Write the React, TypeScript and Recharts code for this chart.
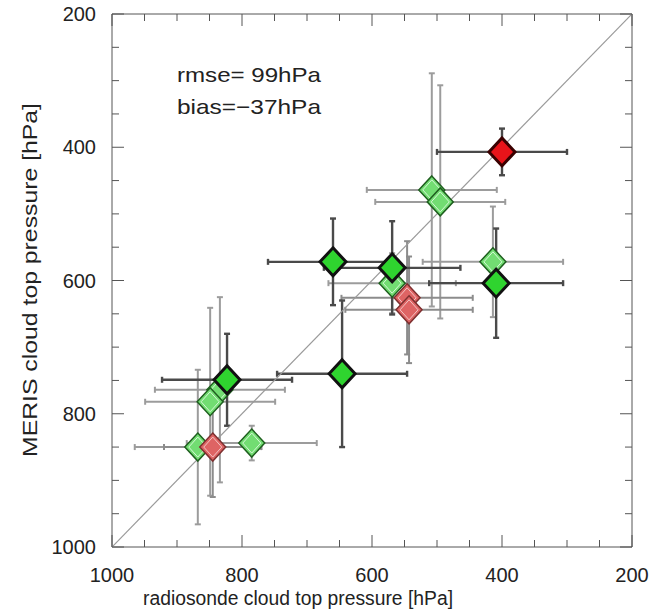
import React from 'react'
import {
  ComposedChart, Scatter, XAxis, YAxis, ErrorBar, Customized,
} from 'recharts'

// pressures in hPa
const lightGreenX = [508, 495, 569, 414, 834, 849, 868, 785]
const lightGreenY = [464, 482, 604, 572, 764, 782, 850, 844]
const lightGreenEx = [100, 100, 98, 108, 100, 100, 97, 100]
const lightGreenEy = [175, 175, 45, 83, 139, 141, 116, 26]

const darkGreenX = [660, 569, 409, 646, 823]
const darkGreenY = [572, 581, 604, 740, 749]
const darkGreenEx = [100, 105, 103, 100, 100]
const darkGreenEy = [65, 70, 82, 110, 69]

const redLightX = [546, 543, 845]
const redLightY = [626, 644, 850]
const redLightEx = [101, 98, 75]
const redLightEy = [85, 80, 75]

const redDarkX = [400]
const redDarkY = [407]
const redDarkEx = [100]
const redDarkEy = [35]

// 1:1 line
const diagX = [1000, 200]
const diagY = [1000, 200]

const majorTicks = [1000, 800, 600, 400, 200]
const allTicks = [1000, 950, 900, 850, 800, 750, 700, 650, 600, 550, 500, 450, 400, 350, 300, 250, 200]
const domain: [number, number] = [200, 1000]

const rmseText = 'rmse= 99hPa'
const biasText = 'bias=\u221237hPa'
const xTitle = 'radiosonde cloud top pressure [hPa]'
const yTitle = 'MERIS cloud top pressure [hPa]'

const toRows = (xs: number[], ys: number[], exs: number[], eys: number[]) =>
  xs.map((x, i) => ({ x, y: ys[i], ex: exs[i], ey: eys[i] }))

const FONT = '"Liberation Sans", Arial, Helvetica, sans-serif'
const AXIS = '#555'
const MAJOR = 12
const MINOR = 7

function diamond(fill: string, stroke: string, sw: number, ring?: string) {
  return (props: any) => {
    const { cx, cy } = props
    if (cx == null || cy == null) return <g />
    const pts = (w: number, h: number) =>
      `${cx},${cy - h} ${cx + w},${cy} ${cx},${cy + h} ${cx - w},${cy}`
    return (
      <g>
        <polygon points={pts(13, 14)} fill={fill} stroke={stroke} strokeWidth={sw} />
        {ring && <polygon points={pts(9, 10)} fill="none" stroke={ring} strokeWidth={1} />}
      </g>
    )
  }
}

// IDL-style ticks: drawn inward from the frame, labels only on majors
function makeTick(side: 'bottom' | 'top' | 'left' | 'right') {
  return (props: any) => {
    const { x, y, payload } = props
    const major = majorTicks.includes(payload.value)
    const len = major ? MAJOR : MINOR
    let line
    if (side === 'bottom') line = <line x1={x} y1={y} x2={x} y2={y - len} />
    else if (side === 'top') line = <line x1={x} y1={y} x2={x} y2={y + len} />
    else if (side === 'left') line = <line x1={x} y1={y} x2={x + len} y2={y} />
    else line = <line x1={x} y1={y} x2={x - len} y2={y} />
    let label = null
    if (major && side === 'bottom') {
      label = <text x={x} y={y + 35} textAnchor="middle" fontSize={20} fontFamily={FONT} fill="#222">{payload.value}</text>
    } else if (major && side === 'left') {
      label = <text x={x - 16} y={y + 7} textAnchor="end" fontSize={20} fontFamily={FONT} fill="#222">{payload.value}</text>
    }
    return (
      <g>
        <g stroke={AXIS} strokeWidth={1}>{line}</g>
        {label}
      </g>
    )
  }
}

function Texts() {
  return (
    <g fontFamily={FONT} fill="#222">
      <text x={177} y={82} fontSize={21} textLength={144} lengthAdjust="spacingAndGlyphs">{rmseText}</text>
      <text x={177} y={114} fontSize={21} textLength={144} lengthAdjust="spacingAndGlyphs">{biasText}</text>
      <text x={298} y={605} fontSize={20} textAnchor="middle" textLength={310} lengthAdjust="spacingAndGlyphs">{xTitle}</text>
      <text
        x={0} y={0} fontSize={21} textAnchor="middle" textLength={354} lengthAdjust="spacingAndGlyphs"
        transform="translate(37 280) rotate(-90)"
      >
        {yTitle}
      </text>
    </g>
  )
}

export default function App() {
  const lightGreen = toRows(lightGreenX, lightGreenY, lightGreenEx, lightGreenEy)
  const darkGreen = toRows(darkGreenX, darkGreenY, darkGreenEx, darkGreenEy)
  const redLight = toRows(redLightX, redLightY, redLightEx, redLightEy)
  const redDark = toRows(redDarkX, redDarkY, redDarkEx, redDarkEy)
  const diag = diagX.map((x, i) => ({ x, y: diagY[i] }))

  return (
    <div style={{ position: 'absolute', left: 0, top: 0 }}>
      <ComposedChart width={654} height={616} margin={{ top: 13, right: 21, left: 52, bottom: 19 }}>
        <XAxis type="number" dataKey="x" domain={domain} reversed allowDataOverflow
          orientation="bottom" height={50} ticks={allTicks} interval={0}
          tickSize={0} tickMargin={0} tickLine={false} tick={makeTick('bottom')}
          axisLine={{ stroke: AXIS }} />
        <XAxis xAxisId="top" type="number" dataKey="x" domain={domain} reversed allowDataOverflow
          orientation="top" height={1} ticks={allTicks} interval={0}
          tickSize={0} tickMargin={0} tickLine={false} tick={makeTick('top')}
          axisLine={{ stroke: AXIS }} />
        <YAxis type="number" dataKey="y" domain={domain} reversed allowDataOverflow
          orientation="left" width={60} ticks={allTicks} interval={0}
          tickSize={0} tickMargin={0} tickLine={false} tick={makeTick('left')}
          axisLine={{ stroke: AXIS }} />
        <YAxis yAxisId="right" type="number" dataKey="y" domain={domain} reversed allowDataOverflow
          orientation="right" width={1} ticks={allTicks} interval={0}
          tickSize={0} tickMargin={0} tickLine={false} tick={makeTick('right')}
          axisLine={{ stroke: AXIS }} />

        <Scatter data={diag} xAxisId="top" yAxisId="right" isAnimationActive={false}
          line={{ stroke: '#9a9a9a', strokeWidth: 1.2 }} lineType="joint" shape={() => <g />} />

        <Scatter data={lightGreen} isAnimationActive={false}
          shape={diamond('#72dd72', '#1f5f1f', 1.5, '#d6f7d6')}>
          <ErrorBar dataKey="ex" direction="x" width={3} stroke="#9c9c9c" strokeWidth={2} />
          <ErrorBar dataKey="ey" direction="y" width={3} stroke="#9c9c9c" strokeWidth={2} />
        </Scatter>
        <Scatter data={redLight} isAnimationActive={false}
          shape={diamond('#de6464', '#7e3030', 1.5, '#f3c4c4')}>
          <ErrorBar dataKey="ex" direction="x" width={3} stroke="#8c8c8c" strokeWidth={2} />
          <ErrorBar dataKey="ey" direction="y" width={3} stroke="#8c8c8c" strokeWidth={2} />
        </Scatter>
        <Scatter data={darkGreen} isAnimationActive={false}
          shape={diamond('#2fd42f', '#111', 3)}>
          <ErrorBar dataKey="ex" direction="x" width={3} stroke="#4a4a4a" strokeWidth={2.4} />
          <ErrorBar dataKey="ey" direction="y" width={3} stroke="#4a4a4a" strokeWidth={2.4} />
        </Scatter>
        <Scatter data={redDark} isAnimationActive={false}
          shape={diamond('#e8141a', '#3a0000', 3)}>
          <ErrorBar dataKey="ex" direction="x" width={3} stroke="#4a4a4a" strokeWidth={2.4} />
          <ErrorBar dataKey="ey" direction="y" width={3} stroke="#4a4a4a" strokeWidth={2.4} />
        </Scatter>

        <Customized component={<Texts />} />
      </ComposedChart>
    </div>
  )
}
